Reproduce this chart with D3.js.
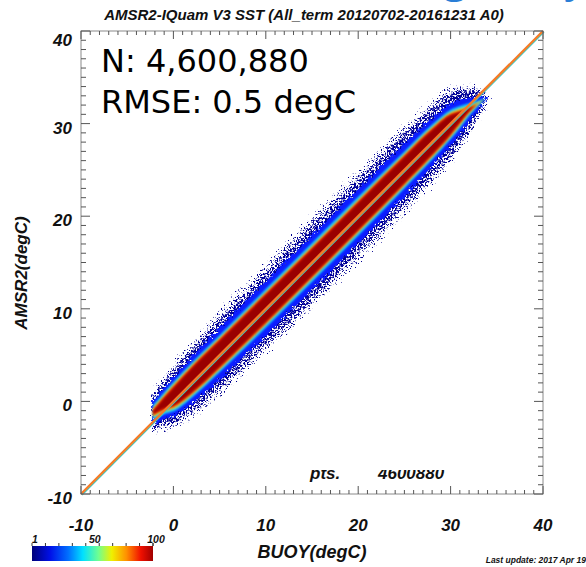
<!DOCTYPE html>
<html>
<head>
<meta charset="utf-8">
<script src="https://cdn.jsdelivr.net/npm/d3@7"></script>
<style>
  body { margin: 0; background: #fff; }
  svg { display: block; }
  .lbl { font-family: "Liberation Sans", Arial, sans-serif; font-weight: bold; font-style: italic; fill: #111; }
</style>
</head>
<body>
<svg id="chart"></svg>
<script>
// density band (degC). offsets are AMSR2 - BUOY
const buoyT      = [-2.2, -1.0, 0.0, 2.0, 5.0, 10.0, 15.0, 20.0, 25.0, 28.0, 30.0, 31.0, 32.0, 33.0, 33.8];
const bandCenter = [ 1.0,  0.8, 0.5, 0.3, 0.15, 0.05, 0.0, 0.0, 0.0, 0.0, -0.1, -0.3, -0.5, -0.8, -1.0];
const hwOutlier  = [ 2.2,  2.8, 3.4, 4.0, 4.5, 4.7, 4.8, 4.8, 4.7, 4.4, 4.0, 3.4, 2.6, 1.6, 0.6];
const hwSpeckle  = [ 1.9,  2.3, 2.8, 3.3, 3.7, 3.9, 4.0, 4.0, 3.9, 3.7, 3.4, 2.9, 2.1, 1.3, 0.4];
const hwBlue     = [ 1.3,  1.7, 2.1, 2.5, 2.8, 2.95, 2.95, 2.95, 2.85, 2.6, 2.3, 1.9, 1.3, 0.7, 0.2];
const hwCyan     = [ 0.8,  1.2, 1.6, 1.9, 2.0, 2.1, 2.1, 2.1, 2.0, 1.9, 1.6, 1.2, 0.7, 0.3, 0.0];
const hwYellow   = [ 0.5,  0.9, 1.3, 1.6, 1.7, 1.75, 1.75, 1.75, 1.7, 1.6, 1.3, 0.9, 0.4, 0.1, 0.0];
const hwRed      = [ 0.3,  0.7, 1.1, 1.45, 1.55, 1.6, 1.6, 1.6, 1.55, 1.45, 1.15, 0.7, 0.25, 0.0, 0.0];
const hwDarkRed  = [ 0.1,  0.5, 0.9, 1.25, 1.35, 1.4, 1.4, 1.4, 1.35, 1.25, 0.95, 0.5, 0.1, 0.0, 0.0];

const axisTicks = [-10, 0, 10, 20, 30, 40];
const barTicks = [1, 50, 100];

const title = "AMSR2-IQuam V3 SST (All_term 20120702-20161231 A0)";
const statN = "N: 4,600,880";
const statRmse = "RMSE: 0.5 degC";

const W = 586, H = 567;
const svg = d3.select("#chart").attr("width", W).attr("height", H);

const x = d3.scaleLinear().domain([-10, 40]).range([81, 543]);
const y = d3.scaleLinear().domain([-10, 40]).range([494, 31]);

const defs = svg.append("defs");
function speckFilter(id, seed, freq, bias, disp) {
  const f = defs.append("filter").attr("id", id)
      .attr("x", "-10%").attr("y", "-10%").attr("width", "120%").attr("height", "120%");
  f.append("feTurbulence").attr("type", "fractalNoise").attr("baseFrequency", freq)
      .attr("numOctaves", 2).attr("seed", seed).attr("result", "n");
  f.append("feColorMatrix").attr("in", "n").attr("type", "matrix")
      .attr("values", `0 0 0 0 0  0 0 0 0 0  0 0 0 0 0  9 0 0 0 ${bias}`).attr("result", "m");
  f.append("feDisplacementMap").attr("in", "SourceGraphic").attr("in2", "n")
      .attr("scale", disp).attr("xChannelSelector", "G").attr("yChannelSelector", "B").attr("result", "d");
  f.append("feComposite").attr("in", "d").attr("in2", "m").attr("operator", "in");
}
speckFilter("outl", 11, 0.7, -5.0, 16);
speckFilter("speck", 4, 0.55, -3.9, 14);

const rough = defs.append("filter").attr("id", "rough")
    .attr("x", "-10%").attr("y", "-10%").attr("width", "120%").attr("height", "120%");
rough.append("feTurbulence").attr("type", "fractalNoise").attr("baseFrequency", 0.35)
    .attr("numOctaves", 2).attr("seed", 9).attr("result", "n");
rough.append("feDisplacementMap").attr("in", "SourceGraphic").attr("in2", "n")
    .attr("scale", 8).attr("xChannelSelector", "R").attr("yChannelSelector", "G").attr("result", "d");
rough.append("feGaussianBlur").attr("in", "d").attr("stdDeviation", 0.6);

const soft = defs.append("filter").attr("id", "soft");
soft.append("feGaussianBlur").attr("stdDeviation", 1.1);

// density layers
const rows = buoyT.map((b, i) => ({ b, c: bandCenter[i], i }));
const layers = [
  { hw: hwOutlier, color: "#000090", filter: "url(#outl)" },
  { hw: hwSpeckle, color: "#00009a", filter: "url(#speck)" },
  { hw: hwBlue, color: "#0a1eff", filter: "url(#rough)" },
  { hw: hwCyan, color: "#18c8ff", filter: "url(#soft)" },
  { hw: hwYellow, color: "#f2d21a", filter: "url(#soft)" },
  { hw: hwRed, color: "#e01a00", filter: "url(#soft)" },
  { hw: hwDarkRed, color: "#9a0000", filter: "url(#soft)" }
];
const dens = svg.append("g");
layers.forEach(L => {
  const area = d3.area()
      .x(d => x(d.b))
      .y0(d => y(d.b + d.c - L.hw[d.i]))
      .y1(d => y(d.b + d.c + L.hw[d.i]))
      .curve(d3.curveMonotoneX);
  dens.append("path").datum(rows).attr("d", area)
      .attr("fill", L.color).attr("filter", L.filter);
});

// 1:1 line
const diag = d3.line().x(d => x(d)).y(d => y(d));
svg.append("path").datum([-10, 40]).attr("d", diag)
    .attr("transform", "translate(1,1)")
    .attr("stroke", "#3cc8c0").attr("stroke-width", 1.2).attr("fill", "none");
svg.append("path").datum([-10, 40]).attr("d", diag)
    .attr("stroke", "#f47a26").attr("stroke-width", 2.4).attr("fill", "none");

// frame + inward ticks
const [x0, x1] = x.range(), [y0, y1] = y.range();
svg.append("rect").attr("x", x0).attr("y", y1).attr("width", x1 - x0).attr("height", y0 - y1)
    .attr("fill", "none").attr("stroke", "#8a8a8a").attr("stroke-width", 1);
const minor = d3.range(-10, 41, 1);
const tk = svg.append("g").attr("stroke", "#555").attr("stroke-width", 1);
minor.forEach(v => {
  const major = v % 10 === 0;
  const len = major ? 8 : 4;
  tk.append("line").attr("x1", x(v)).attr("x2", x(v)).attr("y1", y0).attr("y2", y0 - len);
  tk.append("line").attr("x1", x(v)).attr("x2", x(v)).attr("y1", y1).attr("y2", y1 + len);
  tk.append("line").attr("y1", y(v)).attr("y2", y(v)).attr("x1", x0).attr("x2", x0 + len + 1);
  tk.append("line").attr("y1", y(v)).attr("y2", y(v)).attr("x1", x1).attr("x2", x1 - len - 1);
});

// tick labels
svg.append("g").selectAll("text").data(axisTicks).join("text")
    .attr("class", "lbl").attr("x", d => x(d)).attr("y", 531)
    .attr("text-anchor", "middle").attr("font-size", 17).text(d => d);
svg.append("g").selectAll("text").data(axisTicks).join("text")
    .attr("class", "lbl").attr("x", 72).attr("y", d => y(d) + (d === 40 ? 15 : 10))
    .attr("text-anchor", "end").attr("font-size", 17).text(d => d);

// titles
svg.append("text").attr("class", "lbl").attr("x", 304).attr("y", 20)
    .attr("text-anchor", "middle").attr("font-size", 15).text(title);
svg.append("text").attr("class", "lbl").attr("x", 312).attr("y", 558)
    .attr("text-anchor", "middle").attr("font-size", 18).text("BUOY(degC)");
svg.append("text").attr("class", "lbl").attr("transform", "translate(27,273) rotate(-90)")
    .attr("text-anchor", "middle").attr("font-size", 17).text("AMSR2(degC)");
svg.append("text").attr("class", "lbl").attr("x", 586).attr("y", 563)
    .attr("text-anchor", "end").attr("font-size", 8.5).text("Last update: 2017 Apr 19");

// slide title fragment cut off at top
svg.append("text").attr("x", 600).attr("y", -9).attr("text-anchor", "end")
    .attr("font-family", "Open Sans, sans-serif").attr("font-size", 44).attr("fill", "#2a7ed6")
    .text("ing (daily)");

// partly hidden point count
defs.append("clipPath").attr("id", "cutTop").append("rect")
    .attr("x", 0).attr("y", 470).attr("width", W).attr("height", 20);
const pc = svg.append("g").attr("clip-path", "url(#cutTop)");
pc.append("text").attr("class", "lbl").attr("x", 310).attr("y", 479).attr("font-size", 17).text("pts.");
pc.append("text").attr("class", "lbl").attr("x", 378).attr("y", 479).attr("font-size", 17).text("4600880");

// stats
svg.append("text").attr("x", 101).attr("y", 72).attr("font-family", "DejaVu Sans, Verdana, sans-serif")
    .attr("font-size", 32).attr("fill", "#000").text(statN);
svg.append("text").attr("x", 101).attr("y", 113).attr("font-family", "DejaVu Sans, Verdana, sans-serif")
    .attr("font-size", 32).attr("fill", "#000").text(statRmse);

// colour bar
const cb = d3.scaleLinear().domain([1, 100]).range([32, 153]);
const grad = defs.append("linearGradient").attr("id", "jet");
[["0%", "#00007a"], ["15%", "#0010e8"], ["30%", "#0070ff"], ["42%", "#00e0ff"], ["55%", "#70ff90"],
 ["66%", "#f0f000"], ["78%", "#ff9000"], ["90%", "#f01000"], ["100%", "#a00000"]].forEach(s =>
  grad.append("stop").attr("offset", s[0]).attr("stop-color", s[1]));
svg.append("rect").attr("x", cb(1)).attr("y", 546).attr("width", cb(100) - cb(1)).attr("height", 15)
    .attr("fill", "url(#jet)");
const cbt = svg.append("g").attr("stroke", "#333");
d3.range(1, 101, 11).concat([100]).forEach(v =>
  cbt.append("line").attr("x1", cb(v)).attr("x2", cb(v)).attr("y1", 546).attr("y2", 543));
svg.append("g").selectAll("text").data(barTicks).join("text")
    .attr("class", "lbl").attr("x", d => cb(d) + (d === 1 ? 0 : 3)).attr("y", 543)
    .attr("text-anchor", d => d === 1 ? "start" : "middle").attr("font-size", 10.5).text(d => d);
</script>
</body>
</html>
